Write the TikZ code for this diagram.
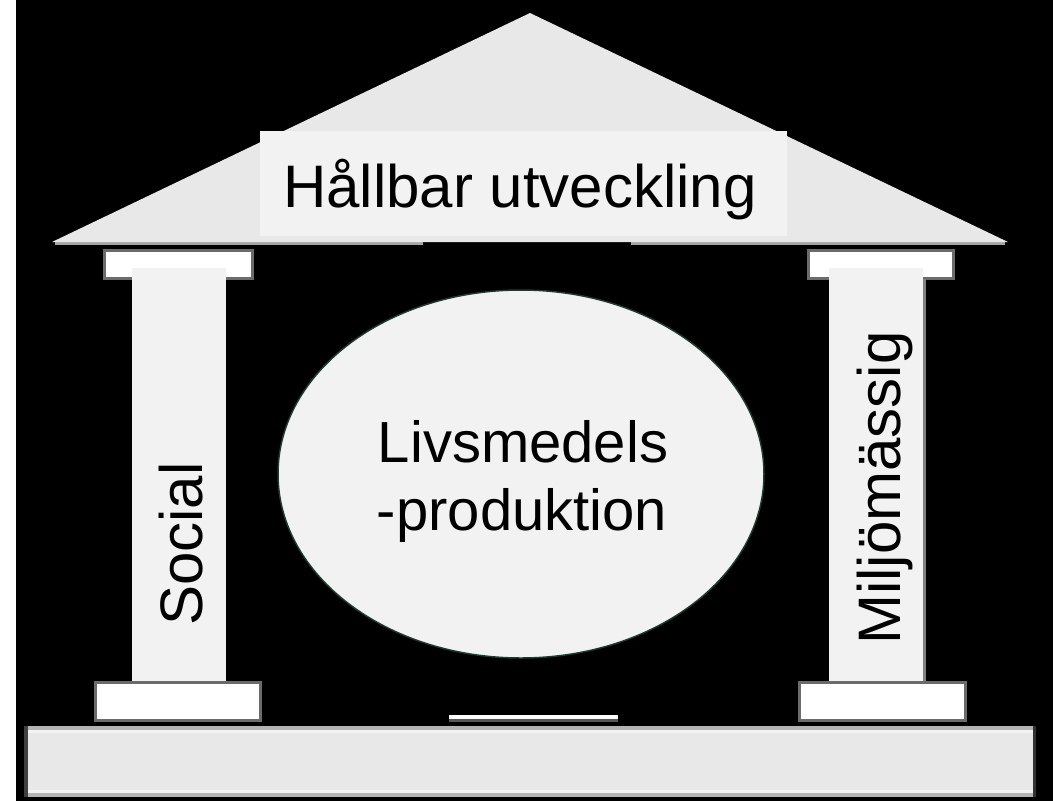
\documentclass[tikz,border=0pt]{standalone}
\usepackage{fontspec}
\setmainfont{Liberation Sans}
\definecolor{roofc}{HTML}{E8E8E8}
\definecolor{panel}{HTML}{F2F2F2}
\definecolor{edgec}{HTML}{6B6B6B}
\definecolor{roofline}{HTML}{A6A6A6}
\definecolor{slabline}{HTML}{B3B3B3}
\definecolor{ellline}{HTML}{1E3A2C}
\tikzset{
  bigtext/.style={font=\fontsize{60}{72}\selectfont, anchor=base, inner sep=0pt},
  midtext/.style={font=\fontsize{58}{70}\selectfont, anchor=base, inner sep=0pt},
  pillarc/.style={fill=panel},
  capc/.style={fill=white, draw=edgec, line width=3pt},
}
\begin{document}
\begin{tikzpicture}[x=1pt,y=-1pt]
\useasboundingbox (0,0) rectangle (1053,801);
\fill[white] (0,0) rectangle (16,801);
\fill[black] (16,0) rectangle (1053,801);
% roof
\fill[roofline] (55,241) rectangle (423,245);
\fill[roofline] (631,241) rectangle (1005,245);
\fill[roofc] (52,242) -- (530,13) -- (1008,242) -- cycle;
\fill[roofc] (423,241) rectangle (631,241.5);
\fill[panel] (260,131) rectangle (787,236);
\node[bigtext] (title) at (520,207) {Hållbar utveckling};
% capitals
\draw[capc] (104,250) rectangle (252,278);
\draw[capc] (808,250) rectangle (953,278);
% pillars
\fill[pillarc] (132,268) rectangle (226,681);
\fill[pillarc] (829,268) rectangle (923,684);
\fill[gray] (923,279) rectangle (926,684);
% bases
\draw[capc] (95,682) rectangle (260,720);
\draw[capc] (799,682) rectangle (965,720);
% middle bar
\fill[white] (449,715) rectangle (618,718.5);
\fill[edgec!80!black] (449,718.5) rectangle (618,722);
% slab
\fill[slabline] (24,726) rectangle (1035,797);
\fill[panel] (28,730) rectangle (1033,793);
\fill[roofc] (28,733) rectangle (1033,790);
\fill[black!75] (24,726) rectangle (28,797);
\fill[black!80] (1033,726) rectangle (1036,797);
% ellipse
\draw[fill=panel, draw=ellline, line width=1.5pt] (521,474) ellipse [x radius=243, y radius=184];
\node[midtext] (food1) at (523,462) {Livsmedels};
\node[midtext] (food2) at (522,530) {-produktion};
% pillar labels
\node[bigtext, rotate=90] (social) at (202,544) {Social};
\node[bigtext, rotate=90] (miljo) at (900,488) {Miljömässig};
\end{tikzpicture}
\end{document}
